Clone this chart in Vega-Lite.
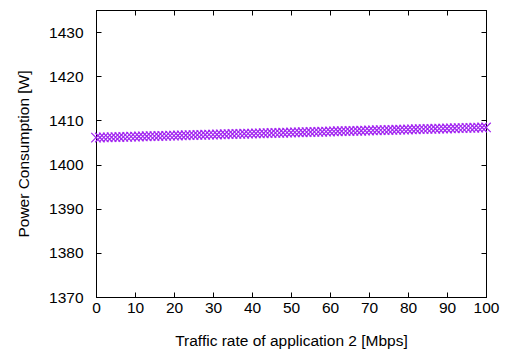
{
  "$schema": "https://vega.github.io/schema/vega-lite/v6.json",
  "width": 390,
  "height": 287,
  "autosize": {"type": "none"},
  "padding": {"left": 96, "top": 10, "right": 20, "bottom": 54},
  "background": "white",
  "config": {
    "view": {"stroke": "black", "strokeWidth": 1},
    "font": "Liberation Sans",
    "axis": {
      "domainColor": "black",
      "tickColor": "black",
      "tickSize": -5,
      "grid": false,
      "labelFlush": false,
      "labelOverlap": false,
      "labelFont": "Liberation Sans",
      "labelFontSize": 15.5,
      "labelColor": "black",
      "titleFont": "Liberation Sans",
      "titleFontSize": 15.5,
      "titleFontWeight": "normal",
      "titleColor": "black"
    }
  },
  "data": {
    "values": [
      {"rate": 0, "power": 1406.10}, {"rate": 1, "power": 1406.12}, {"rate": 2, "power": 1406.15}, {"rate": 3, "power": 1406.17},
      {"rate": 4, "power": 1406.19}, {"rate": 5, "power": 1406.22}, {"rate": 6, "power": 1406.24}, {"rate": 7, "power": 1406.26},
      {"rate": 8, "power": 1406.28}, {"rate": 9, "power": 1406.31}, {"rate": 10, "power": 1406.33}, {"rate": 11, "power": 1406.35},
      {"rate": 12, "power": 1406.38}, {"rate": 13, "power": 1406.40}, {"rate": 14, "power": 1406.42}, {"rate": 15, "power": 1406.45},
      {"rate": 16, "power": 1406.47}, {"rate": 17, "power": 1406.49}, {"rate": 18, "power": 1406.51}, {"rate": 19, "power": 1406.54},
      {"rate": 20, "power": 1406.56}, {"rate": 21, "power": 1406.58}, {"rate": 22, "power": 1406.61}, {"rate": 23, "power": 1406.63},
      {"rate": 24, "power": 1406.65}, {"rate": 25, "power": 1406.68}, {"rate": 26, "power": 1406.70}, {"rate": 27, "power": 1406.72},
      {"rate": 28, "power": 1406.74}, {"rate": 29, "power": 1406.77}, {"rate": 30, "power": 1406.79}, {"rate": 31, "power": 1406.81},
      {"rate": 32, "power": 1406.84}, {"rate": 33, "power": 1406.86}, {"rate": 34, "power": 1406.88}, {"rate": 35, "power": 1406.91},
      {"rate": 36, "power": 1406.93}, {"rate": 37, "power": 1406.95}, {"rate": 38, "power": 1406.97}, {"rate": 39, "power": 1407.00},
      {"rate": 40, "power": 1407.02}, {"rate": 41, "power": 1407.04}, {"rate": 42, "power": 1407.07}, {"rate": 43, "power": 1407.09},
      {"rate": 44, "power": 1407.11}, {"rate": 45, "power": 1407.14}, {"rate": 46, "power": 1407.16}, {"rate": 47, "power": 1407.18},
      {"rate": 48, "power": 1407.20}, {"rate": 49, "power": 1407.23}, {"rate": 50, "power": 1407.25}, {"rate": 51, "power": 1407.27},
      {"rate": 52, "power": 1407.30}, {"rate": 53, "power": 1407.32}, {"rate": 54, "power": 1407.34}, {"rate": 55, "power": 1407.37},
      {"rate": 56, "power": 1407.39}, {"rate": 57, "power": 1407.41}, {"rate": 58, "power": 1407.43}, {"rate": 59, "power": 1407.46},
      {"rate": 60, "power": 1407.48}, {"rate": 61, "power": 1407.50}, {"rate": 62, "power": 1407.53}, {"rate": 63, "power": 1407.55},
      {"rate": 64, "power": 1407.57}, {"rate": 65, "power": 1407.60}, {"rate": 66, "power": 1407.62}, {"rate": 67, "power": 1407.64},
      {"rate": 68, "power": 1407.66}, {"rate": 69, "power": 1407.69}, {"rate": 70, "power": 1407.71}, {"rate": 71, "power": 1407.73},
      {"rate": 72, "power": 1407.76}, {"rate": 73, "power": 1407.78}, {"rate": 74, "power": 1407.80}, {"rate": 75, "power": 1407.83},
      {"rate": 76, "power": 1407.85}, {"rate": 77, "power": 1407.87}, {"rate": 78, "power": 1407.89}, {"rate": 79, "power": 1407.92},
      {"rate": 80, "power": 1407.94}, {"rate": 81, "power": 1407.96}, {"rate": 82, "power": 1407.99}, {"rate": 83, "power": 1408.01},
      {"rate": 84, "power": 1408.03}, {"rate": 85, "power": 1408.06}, {"rate": 86, "power": 1408.08}, {"rate": 87, "power": 1408.10},
      {"rate": 88, "power": 1408.12}, {"rate": 89, "power": 1408.15}, {"rate": 90, "power": 1408.17}, {"rate": 91, "power": 1408.19},
      {"rate": 92, "power": 1408.22}, {"rate": 93, "power": 1408.24}, {"rate": 94, "power": 1408.26}, {"rate": 95, "power": 1408.29},
      {"rate": 96, "power": 1408.31}, {"rate": 97, "power": 1408.33}, {"rate": 98, "power": 1408.35}, {"rate": 99, "power": 1408.38},
      {"rate": 100, "power": 1408.40}
    ]
  },
  "layer": [
    {
      "mark": {
        "type": "point",
        "shape": "M-1,-1L1,1M-1,1L1,-1",
        "filled": false,
        "size": 90,
        "strokeWidth": 1.2,
        "color": "#A020F0",
        "opacity": 1
      },
      "encoding": {
        "x": {
          "field": "rate", "type": "quantitative",
          "scale": {"domain": [0, 100], "nice": false, "zero": false},
          "axis": {"orient": "bottom", "values": [0, 10, 20, 30, 40, 50, 60, 70, 80, 90, 100], "format": "d", "title": "Traffic rate of application 2 [Mbps]", "labelPadding": 8, "titlePadding": 18}
        },
        "y": {
          "field": "power", "type": "quantitative",
          "scale": {"domain": [1370, 1435], "nice": false, "zero": false},
          "axis": {"orient": "left", "values": [1370, 1380, 1390, 1400, 1410, 1420, 1430], "format": "d", "title": "Power Consumption [W]", "labelPadding": 18, "titlePadding": 17}
        }
      }
    },
    {
      "mark": {"type": "point", "opacity": 0},
      "encoding": {
        "x": {
          "field": "rate", "type": "quantitative",
          "scale": {"domain": [0, 100], "nice": false, "zero": false},
          "axis": {"orient": "top", "values": [0, 10, 20, 30, 40, 50, 60, 70, 80, 90, 100], "labels": false, "title": null}
        },
        "y": {
          "field": "power", "type": "quantitative",
          "scale": {"domain": [1370, 1435], "nice": false, "zero": false},
          "axis": {"orient": "right", "values": [1370, 1380, 1390, 1400, 1410, 1420, 1430], "labels": false, "title": null}
        }
      }
    }
  ],
  "resolve": {"axis": {"x": "independent", "y": "independent"}}
}
